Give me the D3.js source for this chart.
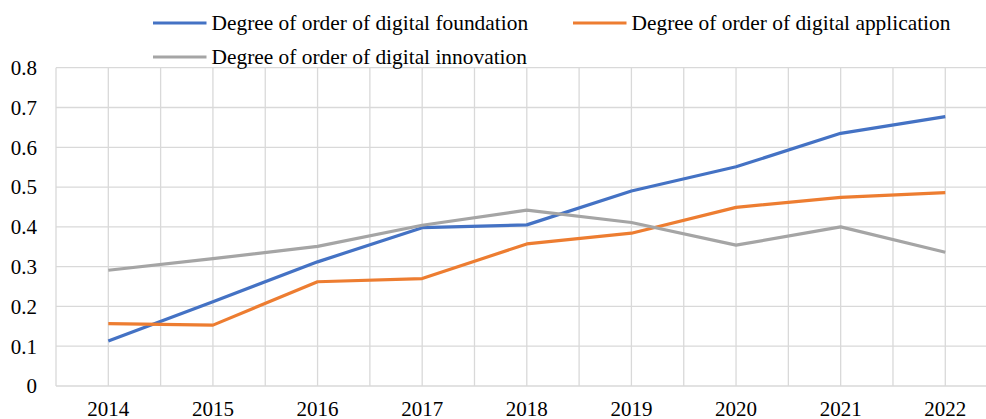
<!DOCTYPE html>
<html>
<head>
<meta charset="utf-8">
<script src="https://cdn.jsdelivr.net/npm/d3@7"></script>
<style>
  body { margin: 0; background: #fff; }
  svg text { font-family: "Liberation Serif", "Times New Roman", serif; fill: #000; }
</style>
</head>
<body>
<div id="chart"></div>
<script>
// values
var years = ["2014", "2015", "2016", "2017", "2018", "2019", "2020", "2021", "2022"];
var foundation = [0.113, 0.212, 0.312, 0.398, 0.405, 0.490, 0.551, 0.635, 0.677];
var application = [0.157, 0.153, 0.262, 0.270, 0.357, 0.384, 0.449, 0.474, 0.486];
var innovation = [0.291, 0.320, 0.351, 0.404, 0.442, 0.411, 0.354, 0.400, 0.336];
var yTicks = [0, 0.1, 0.2, 0.3, 0.4, 0.5, 0.6, 0.7, 0.8];

var seriesNames = ["Degree of order of digital foundation",
                   "Degree of order of digital application",
                   "Degree of order of digital innovation"];
var seriesColors = ["#4472C4", "#ED7D31", "#A5A5A5"];
var seriesValues = [foundation, application, innovation];

var w = 986, h = 419;
var plotLeft = 56, plotRight = 997.6, plotTop = 67.7, plotBottom = 386;

var svg = d3.select("#chart")
    .append("svg")
    .attr("width", w)
    .attr("height", h);

var x = d3.scaleBand()
    .domain(years)
    .range([plotLeft, plotRight])
    .padding(0);

var y = d3.scaleLinear()
    .domain([0, 0.8])
    .range([plotBottom, plotTop]);

// gridlines: horizontal at every tick, vertical at band edges and centres
var grid = svg.append("g")
    .attr("stroke", "#d9d9d9")
    .attr("stroke-width", 1.3);

grid.selectAll(".hgrid")
    .data(yTicks)
    .enter().append("line")
    .attr("x1", plotLeft)
    .attr("x2", plotRight)
    .attr("y1", function (d) { return y(d); })
    .attr("y2", function (d) { return y(d); });

var vpos = [];
years.forEach(function (yr) {
    vpos.push(x(yr));
    vpos.push(x(yr) + x.bandwidth() / 2);
});
vpos.push(plotRight);

grid.selectAll(".vgrid")
    .data(vpos)
    .enter().append("line")
    .attr("x1", function (d) { return d; })
    .attr("x2", function (d) { return d; })
    .attr("y1", plotTop)
    .attr("y2", plotBottom);

// y axis labels
svg.append("g")
    .selectAll("text")
    .data(yTicks)
    .enter().append("text")
    .attr("x", 37)
    .attr("y", function (d) { return y(d); })
    .attr("dy", "0.35em")
    .style("font-size", "21px")
    .style("text-anchor", "end")
    .text(function (d) { return d === 0 ? "0" : d3.format(".1f")(d); });

// x axis labels
svg.append("g")
    .selectAll("text")
    .data(years)
    .enter().append("text")
    .attr("x", function (d) { return x(d) + x.bandwidth() / 2; })
    .attr("y", 416)
    .style("font-size", "21px")
    .style("text-anchor", "middle")
    .text(function (d) { return d; });

// lines
var line = d3.line()
    .x(function (d, i) { return x(years[i]) + x.bandwidth() / 2; })
    .y(function (d) { return y(d); });

seriesValues.forEach(function (vals, k) {
    svg.append("path")
        .datum(vals)
        .attr("fill", "none")
        .attr("stroke", seriesColors[k])
        .attr("stroke-width", 3.2)
        .attr("stroke-linejoin", "round")
        .attr("d", line);
});

// legend
var legendPos = [[153, 23], [573, 23], [153, 57]];
seriesNames.forEach(function (name, k) {
    var g = svg.append("g")
        .attr("transform", "translate(" + legendPos[k][0] + "," + legendPos[k][1] + ")");
    g.append("line")
        .attr("x1", 0)
        .attr("x2", 53.5)
        .attr("y1", 0)
        .attr("y2", 0)
        .attr("stroke", seriesColors[k])
        .attr("stroke-width", 3.2);
    g.append("text")
        .attr("x", 58.5)
        .attr("y", 6.5)
        .style("font-size", "21.4px")
        .text(name);
});
</script>
</body>
</html>
